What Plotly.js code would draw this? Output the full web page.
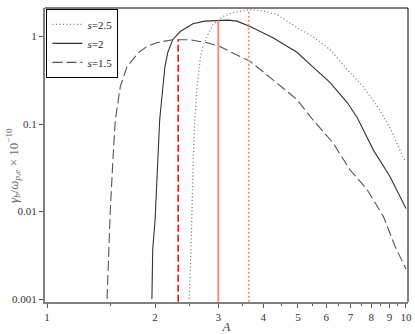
<!DOCTYPE html>
<html>
<head>
<meta charset="utf-8">
<script src="https://cdn.plot.ly/plotly-3.0.1.min.js"></script>
<style>
  body { margin: 0; background: #fff; }
  #plot { width: 415px; height: 334px; }
</style>
</head>
<body>
<div id="plot"></div>
<script>
// values (A on log axis, growth rate on log axis)
var A_s25 = [2.49, 2.52, 2.55, 2.58, 2.62, 2.67, 2.72, 2.79, 2.90, 3.09, 3.30, 3.50, 3.68, 4.00, 4.37, 4.97, 5.50, 6.14, 6.86, 7.60, 8.43, 9.10, 9.83, 10];
var g_s25 = [0.001, 0.004, 0.030, 0.112, 0.27, 0.55, 0.78, 1.0, 1.37, 1.69, 1.88, 1.98, 2.03, 1.96, 1.78, 1.27, 1.0, 0.71, 0.42, 0.268, 0.146, 0.085, 0.041, 0.037];

var A_s2 = [1.96, 1.97, 2.0, 2.035, 2.06, 2.10, 2.13, 2.17, 2.24, 2.35, 2.55, 2.75, 2.99, 3.20, 3.38, 3.68, 4.26, 4.97, 5.50, 6.14, 6.86, 7.31, 8.10, 9.03, 10];
var g_s2 = [0.001, 0.0037, 0.008, 0.051, 0.112, 0.25, 0.45, 0.66, 0.92, 1.14, 1.40, 1.50, 1.53, 1.54, 1.50, 1.30, 0.97, 0.66, 0.45, 0.30, 0.176, 0.119, 0.051, 0.025, 0.0108];

var A_s15 = [1.47, 1.50, 1.53, 1.55, 1.60, 1.67, 1.76, 1.81, 1.90, 2.02, 2.24, 2.50, 2.79, 3.03, 3.45, 3.68, 4.26, 4.97, 5.50, 6.26, 6.98, 7.78, 8.66, 9.32, 10];
var g_s15 = [0.001, 0.01, 0.047, 0.112, 0.268, 0.45, 0.59, 0.67, 0.77, 0.85, 0.92, 0.92, 0.85, 0.77, 0.59, 0.52, 0.32, 0.19, 0.112, 0.061, 0.030, 0.018, 0.0087, 0.004, 0.0022];

// peak markers (vertical red lines)
var peakA = [2.32, 3.0, 3.65];
var peakG = [0.92, 1.53, 2.03];
var yFloor = 0.00093;

var xTicks = [1, 2, 3, 4, 5, 6, 7, 8, 9, 10];
var xMinor = [1.5, 2.5, 3.5, 4.5, 5.5, 6.5, 7.5, 8.5, 9.5];
var yTicks = [0.001, 0.01, 0.1, 1];
var yTickText = ["0.001", "0.01", "0.1", "1"];

var serif = "Liberation Serif, Times New Roman, serif";

var data = [
  {
    type: "scatter", mode: "lines", name: "<i>s</i>=2.5",
    x: A_s25, y: g_s25,
    line: { color: "#7a7a7a", width: 1.3, dash: "1px,2.5px" }
  },
  {
    type: "scatter", mode: "lines", name: "<i>s</i>=2",
    x: A_s2, y: g_s2,
    line: { color: "#333333", width: 1.1 }
  },
  {
    type: "scatter", mode: "lines", name: "<i>s</i>=1.5",
    x: A_s15, y: g_s15,
    line: { color: "#555555", width: 1.1, dash: "10px,4px" }
  },
  {
    type: "scatter", mode: "lines", showlegend: false, hoverinfo: "skip",
    x: [peakA[0], peakA[0]], y: [yFloor, peakG[0]],
    line: { color: "#ff0000", width: 1.5, dash: "7px,3px" }
  },
  {
    type: "scatter", mode: "lines", showlegend: false, hoverinfo: "skip",
    x: [peakA[1], peakA[1]], y: [yFloor, peakG[1]],
    line: { color: "#ff8080", width: 1.8 }
  },
  {
    type: "scatter", mode: "lines", showlegend: false, hoverinfo: "skip",
    x: [peakA[2], peakA[2]], y: [yFloor, peakG[2]],
    line: { color: "#ff8a8a", width: 1.8, dash: "2px,2px" }
  }
];

var layout = {
  width: 415,
  height: 334,
  margin: { l: 45, r: 7, t: 8, b: 32 },
  paper_bgcolor: "#ffffff",
  plot_bgcolor: "#ffffff",
  font: { family: serif, size: 11, color: "#222" },
  showlegend: true,
  legend: {
    x: 0.004, y: 0.997, xanchor: "left", yanchor: "top",
    bgcolor: "#ffffff", bordercolor: "#000", borderwidth: 1,
    font: { family: serif, size: 11, color: "#222" },
    tracegroupgap: 0, itemwidth: 30
  },
  xaxis: {
    type: "log",
    range: [-0.0056, 1.0056],
    tickvals: xTicks,
    ticktext: xTicks.map(String),
    ticks: "outside", ticklen: 4, tickwidth: 1, tickcolor: "#555",
    minor: { tickvals: xMinor, ticks: "outside", ticklen: 2, tickcolor: "#555" },
    showgrid: false, zeroline: false,
    showline: true, linecolor: "#808080", linewidth: 2,
    tickfont: { family: serif, size: 11, color: "#333" },
    title: { text: "<i>A</i>", font: { family: serif, size: 13, color: "#444" }, standoff: 2 }
  },
  yaxis: {
    type: "log",
    range: [-3.034, 0.326],
    tickvals: yTicks,
    ticktext: yTickText,
    ticks: "outside", ticklen: 4, tickwidth: 1, tickcolor: "#555",
    showgrid: false, zeroline: false,
    showline: true, linecolor: "#808080", linewidth: 2,
    tickfont: { family: serif, size: 11, color: "#333" }
  },
  shapes: [
    { type: "line", xref: "paper", yref: "paper", x0: 0, x1: 1, y0: 1, y1: 1, line: { color: "#000", width: 1 } },
    { type: "line", xref: "paper", yref: "paper", x0: 1, x1: 1, y0: 0, y1: 1, line: { color: "#000", width: 1 } }
  ],
  annotations: [
    {
      xref: "paper", yref: "paper", x: -0.088, y: 0.463,
      xanchor: "center", yanchor: "middle",
      text: "<i>γ<sub>b</sub></i>/<i>ω<sub>p,e</sub></i> × 10<sup>−10</sup>",
      textangle: -90, showarrow: false,
      font: { family: serif, size: 13, color: "#666" }
    }
  ]
};

var config = { staticPlot: true, displayModeBar: false };

Plotly.newPlot("plot", data, layout, config);
</script>
</body>
</html>
